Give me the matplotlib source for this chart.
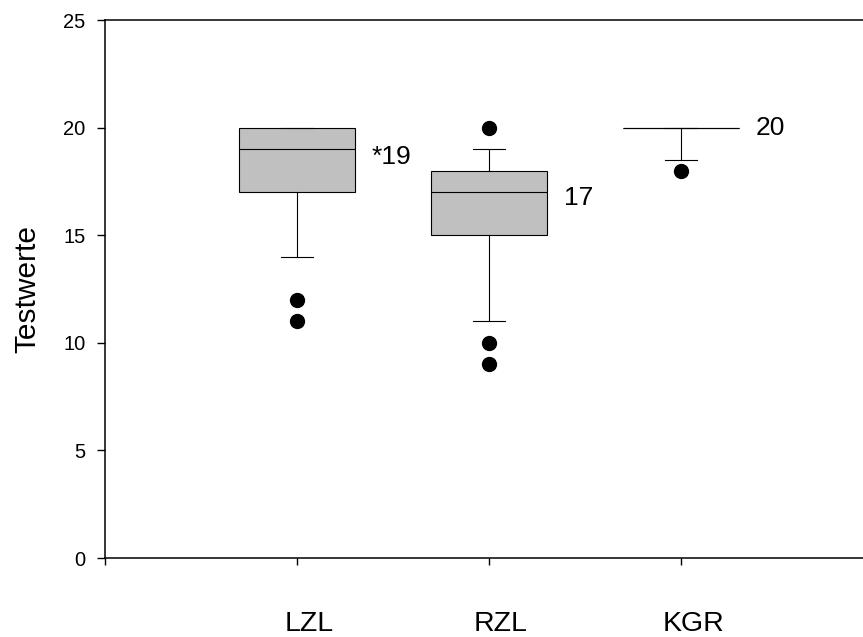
import matplotlib.pyplot as plt
import matplotlib.transforms as mtransforms

plt.rcParams['font.family'] = ['Liberation Sans', 'DejaVu Sans']

groups = ["LZL", "RZL", "KGR"]
q1 = [17, 15, 20]
medians = [19, 17, 20]
q3 = [20, 18, 20]
whisker_lo = [14, 11, 18.5]
whisker_hi = [20, 19, 20]
outliers = [[12, 11], [20, 10, 9], [18]]
label_prefix = ["*", "", ""]
label_shift = [-0.35, -0.25, 0.0]

stats = []
for i, name in enumerate(groups):
    stats.append(dict(label=name, med=medians[i], q1=q1[i], q3=q3[i],
                      whislo=whisker_lo[i], whishi=whisker_hi[i],
                      fliers=outliers[i]))

fig = plt.figure(figsize=(8.63, 6.37), dpi=100)
ax = fig.add_axes([105 / 863, 79 / 637, 1 - 105 / 863, 538 / 637])

pos = [1, 2, 3]
ax.bxp(stats, positions=pos, widths=0.6, patch_artist=True, capwidths=0.165,
       boxprops=dict(facecolor="#c0c0c0", edgecolor="black", linewidth=0.8),
       medianprops=dict(color="black", linewidth=0.8),
       whiskerprops=dict(color="black", linewidth=0.8),
       capprops=dict(color="black", linewidth=0.8),
       flierprops=dict(marker="o", markerfacecolor="black",
                       markeredgecolor="black", markersize=10))

for i, p in enumerate(pos):
    ax.text(p + 0.39, medians[i] + label_shift[i],
            f"{label_prefix[i]}{medians[i]}", ha="left", va="center",
            fontsize=19)

ax.set_xlim(0, 758 / 192)
ax.set_ylim(0, 25)
ax.set_yticks([0, 5, 10, 15, 20, 25])
ax.set_xticks([0, 1, 2, 3])
ax.set_xticklabels(["", "LZL", "RZL", "KGR"], fontsize=20.5)
ax.tick_params(axis="y", labelsize=14.5, length=6, width=1, pad=8, direction="out")
ax.tick_params(axis="x", length=5, width=1, pad=33, direction="out")
ax.set_ylabel("Testwerte", fontsize=21.5, labelpad=16)

# category names sit a little right of their ticks
shift = mtransforms.ScaledTranslation(12 / 100, 0, fig.dpi_scale_trans)
for lab in ax.get_xticklabels():
    lab.set_transform(lab.get_transform() + shift)

ax.spines["right"].set_visible(False)
for s in ["left", "bottom", "top"]:
    ax.spines[s].set_linewidth(1.1)

fig.savefig("out.png", dpi=100)
